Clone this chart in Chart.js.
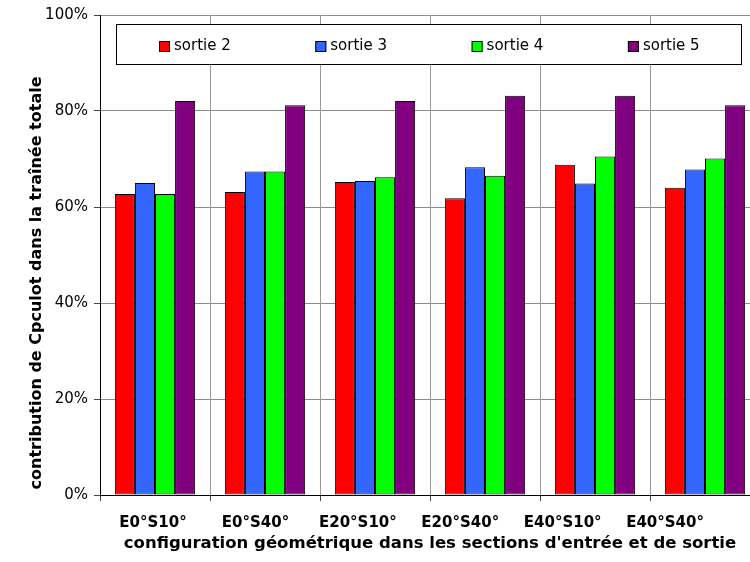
<!DOCTYPE html>
<html>
<head>
<meta charset="utf-8">
<script src="https://cdn.jsdelivr.net/npm/chart.js@4/dist/chart.umd.min.js"></script>
<style>
  html, body { margin: 0; padding: 0; background: #fff; overflow: hidden; }
  canvas { display: block; }
</style>
</head>
<body>
<canvas id="chart" width="765" height="562"></canvas>
<script>
// categories along the x axis
const categories = ["E0°S10°", "E0°S40°", "E20°S10°", "E20°S40°", "E40°S10°", "E40°S40°"];

// series values, in %
const sortie2 = [62.7, 63.1, 65.2, 61.8, 68.8, 64.0];
const sortie3 = [65.0, 67.4, 65.4, 68.3, 64.9, 67.8];
const sortie4 = [62.7, 67.4, 66.2, 66.5, 70.5, 70.1];
const sortie5 = [82.1, 81.2, 82.1, 83.2, 83.2, 81.2];

const seriesNames = ["sortie 2", "sortie 3", "sortie 4", "sortie 5"];
const seriesColors = ["#FF0000", "#3366FF", "#00FF00", "#800080"];

// y tick labels
const yTicks = [0, 20, 40, 60, 80, 100];

const FONT = "'DejaVu Sans', Verdana, sans-serif";
Chart.defaults.font.family = FONT;
Chart.defaults.color = "#000";

// legend drawn as a boxed row inside the plot, like the original
const boxedLegend = {
    id: "boxedLegend",
    afterDraw(chart) {
        const ctx = chart.ctx;
        const bx = 116, by = 24, bw = 625, bh = 40;
        ctx.save();
        ctx.fillStyle = "#fff";
        ctx.fillRect(bx, by, bw, bh);
        ctx.strokeStyle = "#000";
        ctx.lineWidth = 1;
        ctx.strokeRect(bx + 0.5, by + 0.5, bw, bh);
        ctx.font = "15px " + FONT;
        ctx.textBaseline = "middle";
        chart.data.datasets.forEach((ds, i) => {
            const x = bx + 43 + i * 156.3;
            const y = by + 22;
            ctx.fillStyle = ds.backgroundColor;
            ctx.fillRect(x, y - 5, 11, 11);
            ctx.strokeStyle = "#000";
            ctx.strokeRect(x + 0.5, y - 4.5, 10, 10);
            ctx.fillStyle = "#000";
            ctx.fillText(ds.label, x + 15, y);
        });
        ctx.restore();
    }
};

const allSeries = [sortie2, sortie3, sortie4, sortie5];

new Chart(document.getElementById("chart"), {
    type: "bar",
    data: {
        labels: categories,
        datasets: allSeries.map((vals, i) => ({
            label: seriesNames[i],
            data: vals,
            backgroundColor: seriesColors[i],
            borderColor: "#000",
            borderWidth: 1,
            borderSkipped: false,
            categoryPercentage: 0.73,
            barPercentage: 1.0
        }))
    },
    options: {
        responsive: false,
        animation: false,
        devicePixelRatio: 1,
        layout: { padding: { top: 12, right: 5, left: 0, bottom: 0 } },
        plugins: {
            legend: { display: false },
            tooltip: { enabled: false }
        },
        scales: {
            y: {
                min: 0,
                max: 100,
                afterBuildTicks: s => { s.ticks = yTicks.map(v => ({ value: v })); },
                afterFit: s => { s.width = 100; },
                ticks: {
                    callback: v => v + "%",
                    font: { size: 15 },
                    padding: 6
                },
                grid: { color: "#8c8c8c", tickLength: 6, tickColor: "#444" },
                border: { color: "#000", width: 1 },
                title: {
                    display: true,
                    // leading space nudges the start-aligned title up a little
                    text: " contribution de Cpculot dans la traînée totale",
                    font: { size: 16, weight: "bold" },
                    align: "start",
                    padding: { top: 27, bottom: 0 }
                }
            },
            x: {
                weight: 0,
                afterFit: s => { s.height = 7; },
                ticks: { display: false },
                grid: { color: "#9a9a9a", offset: true, tickLength: 6, tickColor: "#444" },
                border: { color: "#000", width: 1 }
            },
            xLab: {
                type: "linear",
                position: "bottom",
                weight: 1,
                offset: false,
                min: -0.518,
                max: 5.927,
                afterBuildTicks: s => { s.ticks = categories.map((c, i) => ({ value: i })); },
                afterFit: s => { s.height = 60; },
                ticks: {
                    autoSkip: false,
                    maxRotation: 0,
                    callback: v => categories[v],
                    font: { size: 15, weight: "bold" },
                    padding: 12
                },
                grid: { display: false, drawTicks: false },
                border: { display: false },
                title: {
                    display: true,
                    text: "configuration géométrique dans les sections d'entrée et de sortie",
                    font: { size: 16.5, weight: "bold" },
                    padding: { top: 0, bottom: 8 }
                }
            }
        }
    },
    plugins: [boxedLegend]
});
</script>
</body>
</html>
